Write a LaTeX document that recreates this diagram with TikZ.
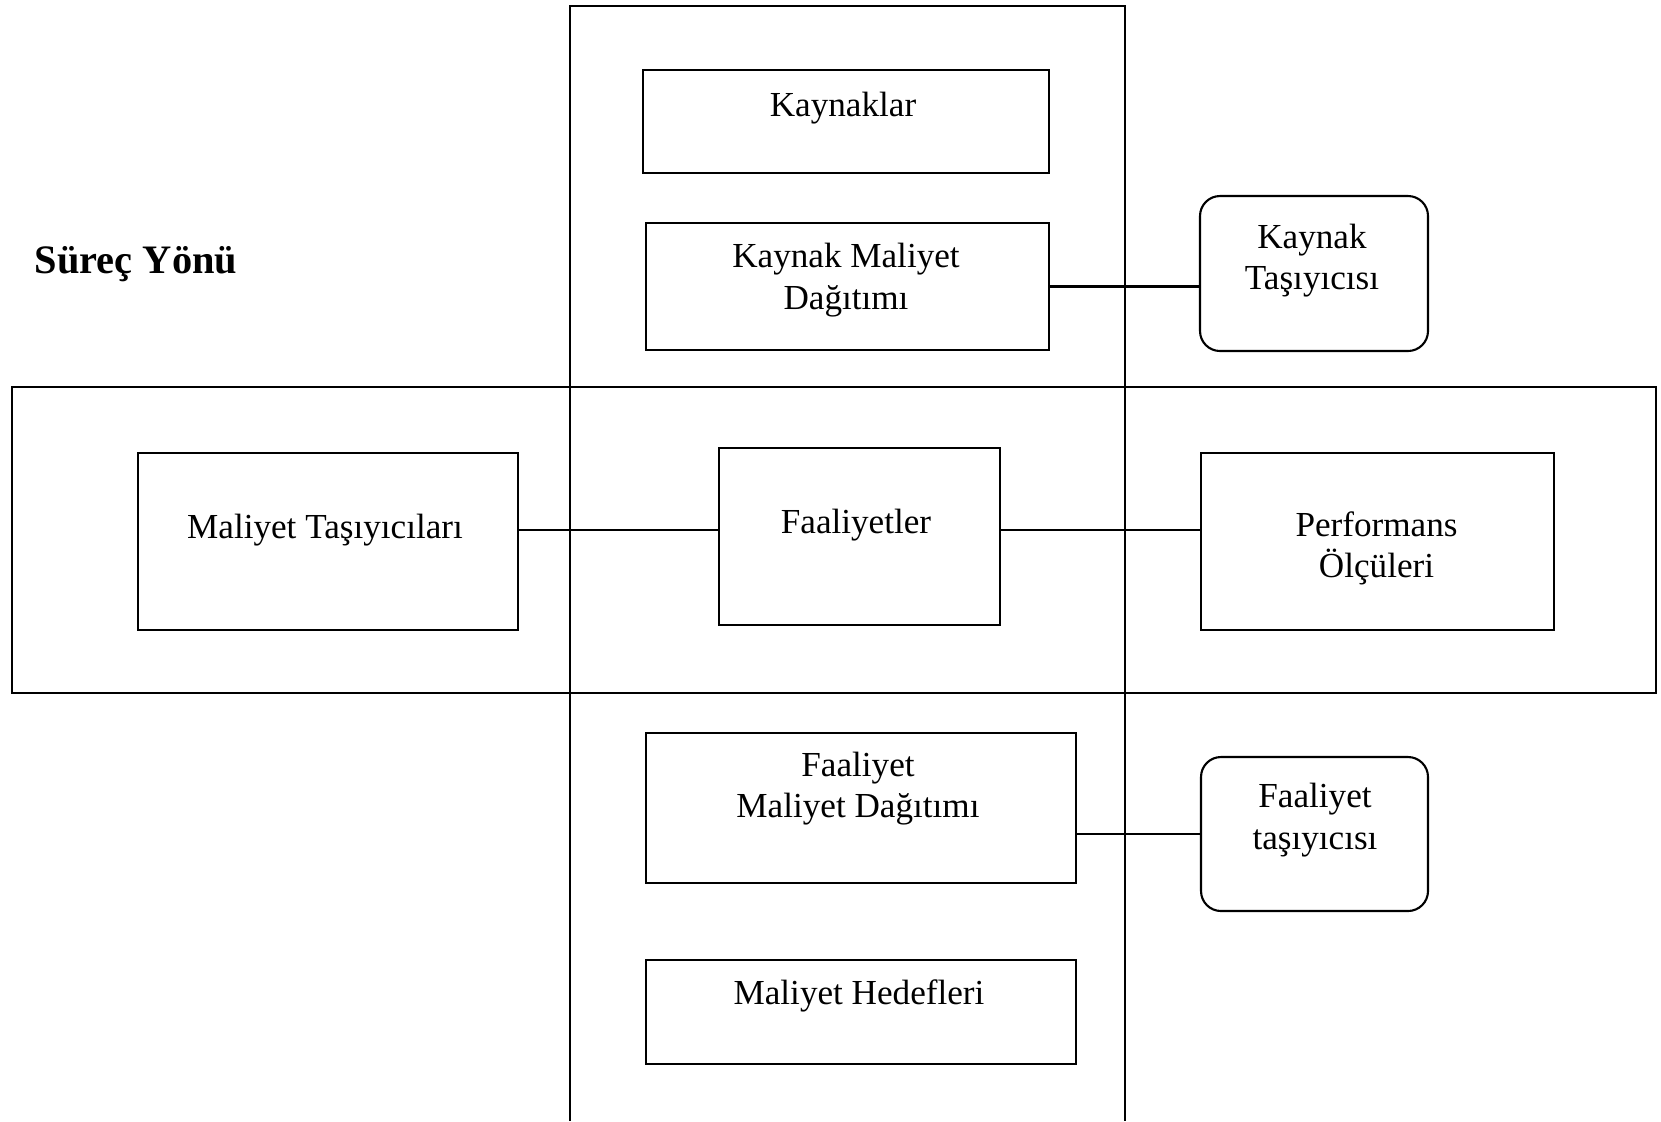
\documentclass[tikz,border=0pt]{standalone}
\usepackage{fontspec}
\setmainfont{Liberation Serif}
\usetikzlibrary{positioning}

\begin{document}
\begin{tikzpicture}[
    x=0.1mm, y=-0.1mm,
    box/.style={rectangle, draw, line width=0.6pt, inner sep=0pt, outer sep=0pt},
    rbox/.style={box, rounded corners=2mm},
    lbl/.style={align=center, inner sep=0pt, font=\fontsize{10}{11.8}\selectfont},
    link/.style={line width=0.6pt}
]
\useasboundingbox (0,0) rectangle (1661,1121);

% the two bands
\draw[link] (570,1121) -- (570,6) -- (1125,6) -- (1125,1121);
\node[box, minimum width=164.4mm, minimum height=30.6mm] (proc) at (834,540) {};
\node[font=\fontsize{11.5}{14}\selectfont\bfseries, inner sep=0pt] (yon) at (136,264) {Süreç Yönü};

% boxes
\node[box, minimum width=40.6mm, minimum height=10.3mm] (kay) at (846,121.5) {};
\node[box, minimum width=40.3mm, minimum height=12.7mm] (kmd) at (847.5,286.5) {};
\node[rbox, minimum width=22.8mm, minimum height=15.5mm] (kt) at (1314,273.5) {};
\node[box, minimum width=38mm, minimum height=17.7mm] (mt) at (328,541.5) {};
\node[box, minimum width=28.1mm, minimum height=17.7mm] (fa) at (859.5,536.5) {};
\node[box, minimum width=35.3mm, minimum height=17.7mm] (po) at (1377.5,541.5) {};
\node[box, minimum width=43mm, minimum height=15mm] (fmd) at (861,808) {};
\node[rbox, minimum width=22.7mm, minimum height=15.4mm] (ft) at (1314.5,834) {};
\node[box, minimum width=43mm, minimum height=10.4mm] (mh) at (861,1012) {};

% texts
\node[lbl] (kayT) at (843,108) {Kaynaklar};
\node[lbl] (kmdT) at (846,280) {Kaynak Maliyet\\Dağıtımı};
\node[lbl] (ktT) at (1312,260.5) {Kaynak\\Taşıyıcısı};
\node[lbl] (mtT) at (325,530) {Maliyet Taşıyıcıları};
\node[lbl] (faT) at (856,525) {Faaliyetler};
\node[lbl] (poT) at (1376.5,548.5) {Performans\\Ölçüleri};
\node[lbl] (fmdT) at (858,788.5) {Faaliyet\\Maliyet Dağıtımı};
\node[lbl] (ftT) at (1315,820) {Faaliyet\\taşıyıcısı};
\node[lbl] (mhT) at (859,996) {Maliyet Hedefleri};

% links
\draw[link] (kmd.east) -- (kmd.east -| kt.west);
\draw[link] ([yshift=3.3pt]mt.east) -- ([yshift=3.3pt]mt.east -| fa.west);
\draw[link] ([yshift=1.85pt]fa.east) -- ([yshift=1.85pt]fa.east -| po.west);
\draw[link] (ft.west -| fmd.east) -- (ft.west);

\end{tikzpicture}
\end{document}
